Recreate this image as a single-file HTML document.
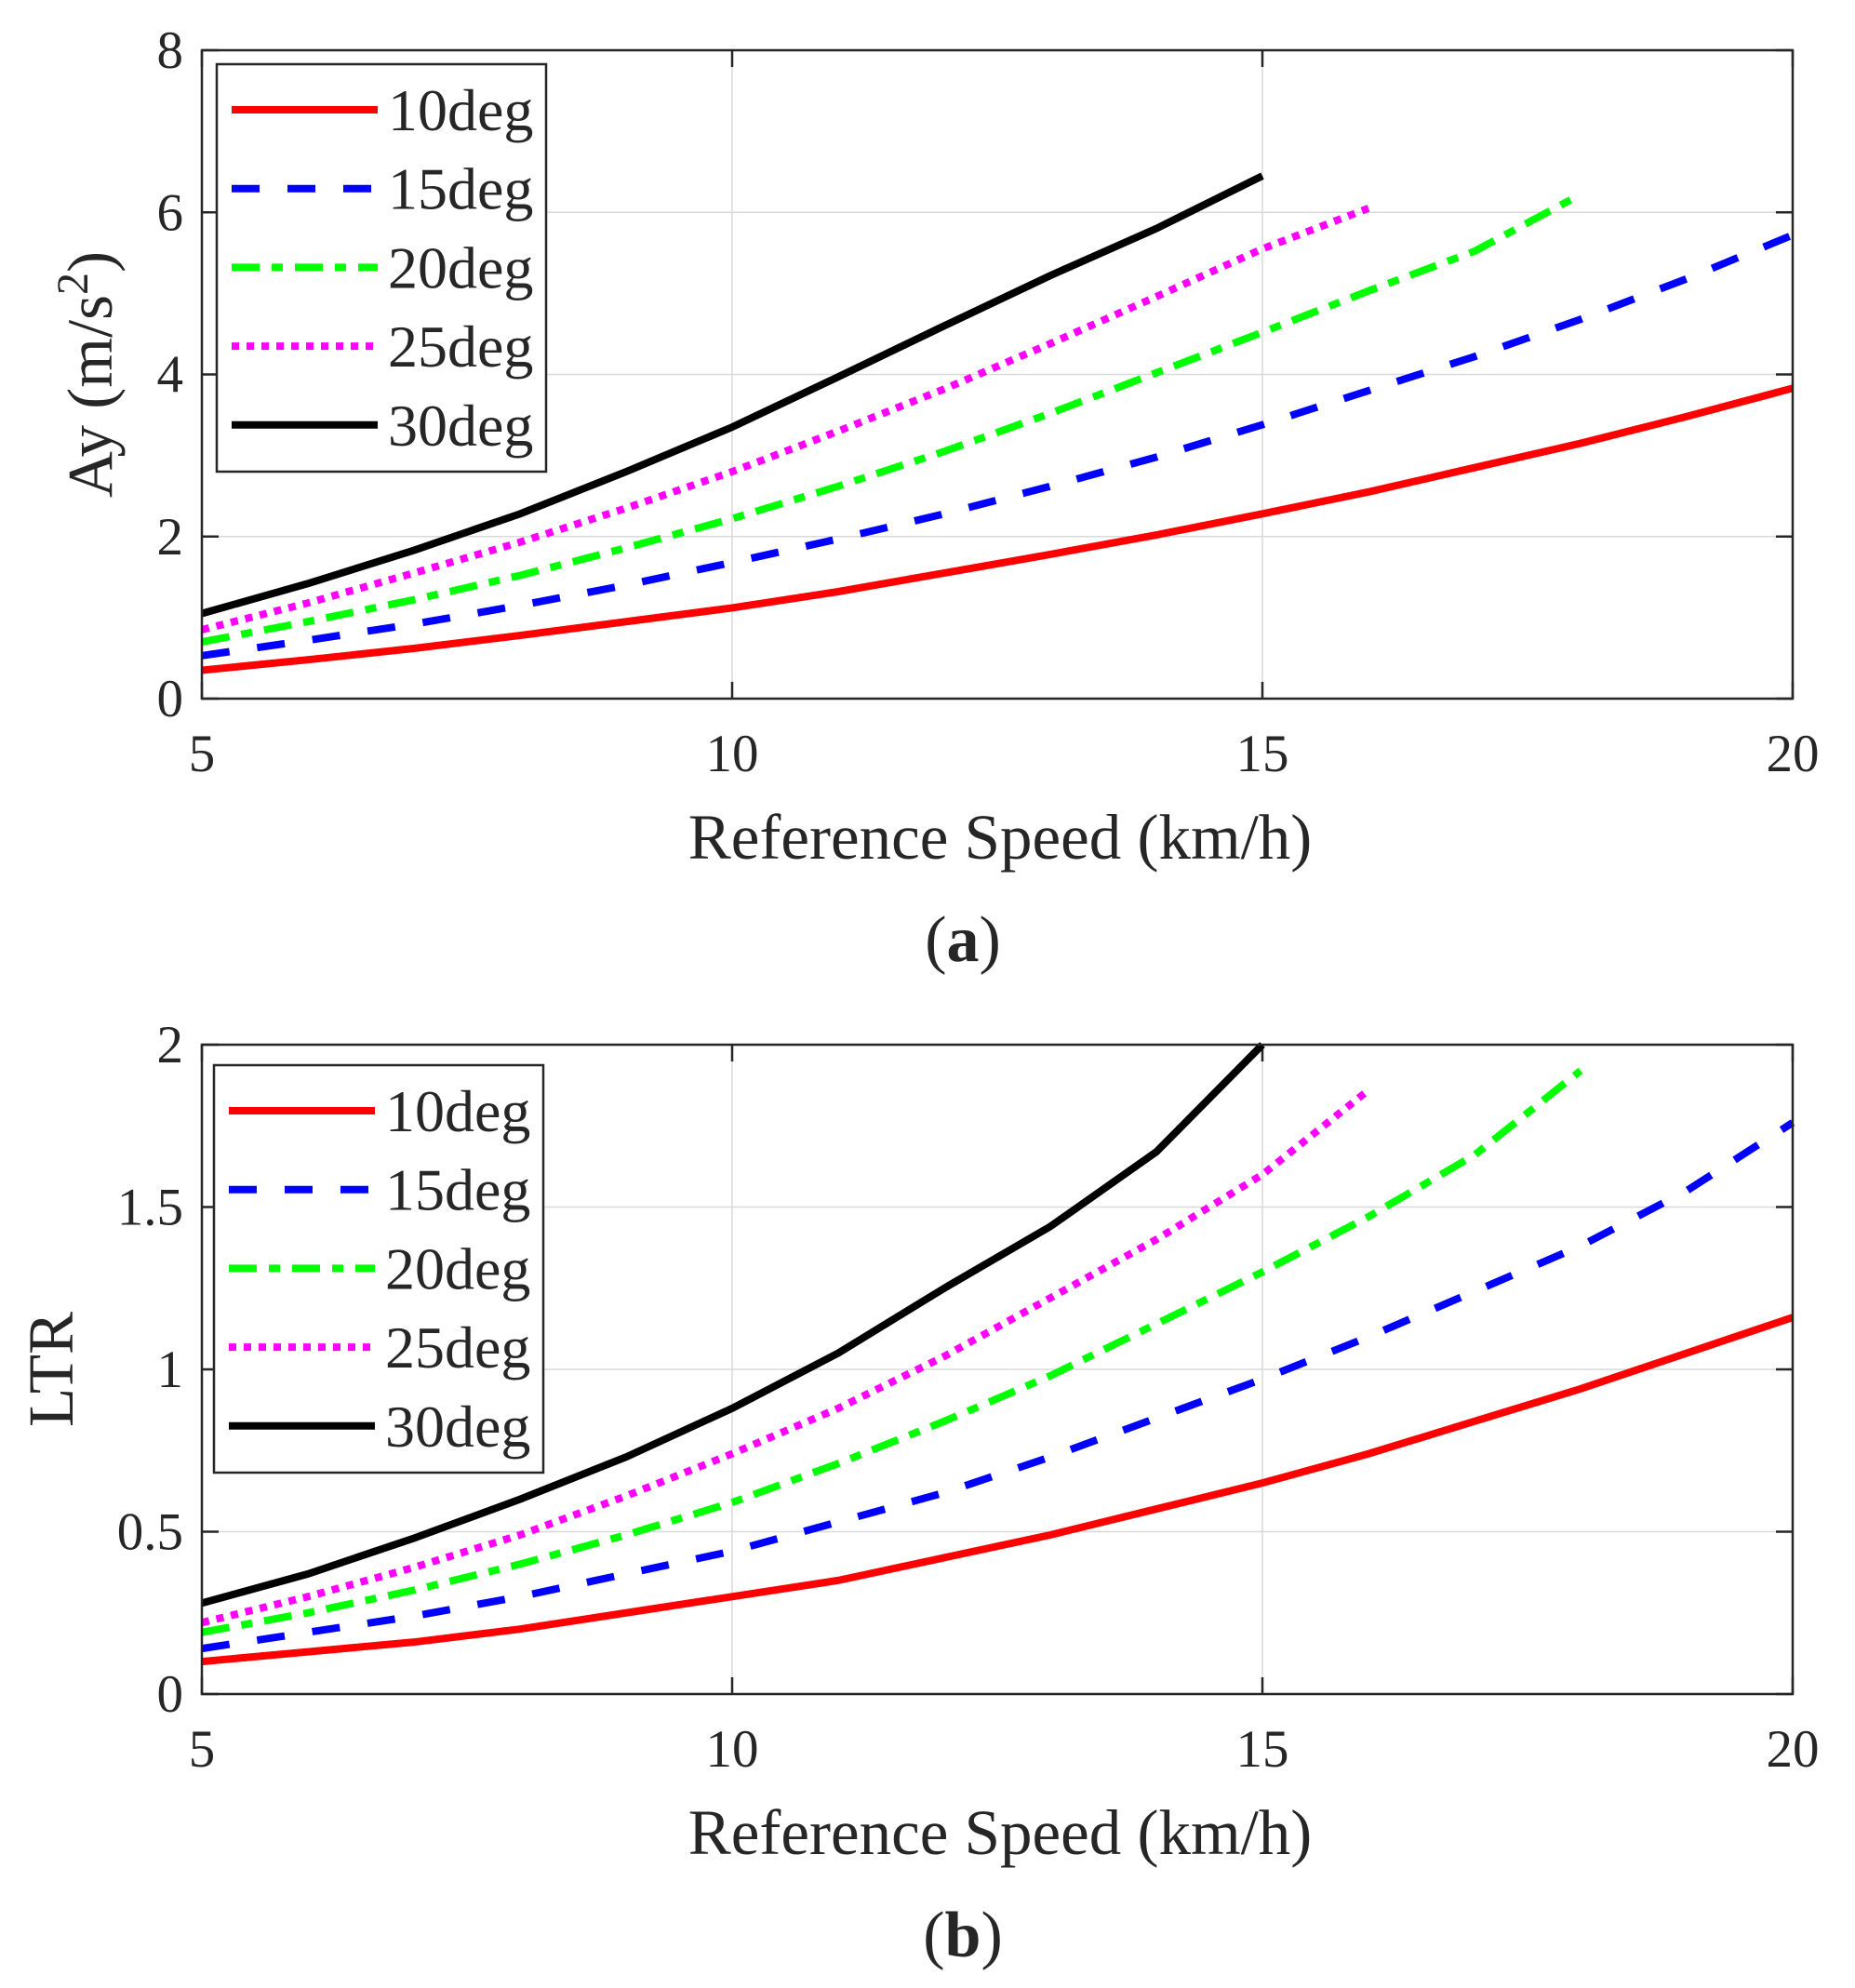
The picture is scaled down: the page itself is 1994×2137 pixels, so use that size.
<!DOCTYPE html>
<html><head><meta charset="utf-8"><style>
html,body{margin:0;padding:0;background:#fff;}
svg text{font-family:"Liberation Serif",serif;fill:#262626;}
</style></head><body>
<svg id="fig" width="1994" height="2132" viewBox="0 0 1994 2132" xmlns="http://www.w3.org/2000/svg"></svg>
<script>
const xs = [5,6,7,8,9,10,11,12,13,14,15,16,17,18,19,20];
const seriesNames = ["10deg","15deg","20deg","25deg","30deg"];
const ayRed = [0.35,0.48,0.62,0.78,0.95,1.12,1.32,1.55,1.78,2.02,2.28,2.55,2.85,3.15,3.48,3.83];
const ayBlue = [0.53,0.72,0.92,1.15,1.40,1.68,1.97,2.28,2.62,2.98,3.38,3.80,4.22,4.68,5.18,5.72];
const ayGreen = [0.70,0.95,1.22,1.52,1.86,2.22,2.62,3.05,3.52,4.02,4.52,5.03,5.52,6.22];
const ayMagenta = [0.85,1.18,1.55,1.93,2.35,2.80,3.30,3.82,4.38,4.96,5.55,6.05];
const ayBlack = [1.05,1.42,1.83,2.28,2.80,3.35,3.97,4.60,5.22,5.80,6.45];
const ltrRed = [0.10,0.13,0.16,0.20,0.25,0.30,0.35,0.42,0.49,0.57,0.65,0.74,0.84,0.94,1.05,1.16];
const ltrBlue = [0.14,0.19,0.24,0.30,0.37,0.44,0.53,0.62,0.73,0.85,0.97,1.10,1.24,1.38,1.55,1.76];
const ltrGreen = [0.19,0.25,0.32,0.40,0.49,0.59,0.71,0.84,0.98,1.14,1.30,1.47,1.66,1.92];
const ltrMagenta = [0.22,0.30,0.39,0.49,0.61,0.74,0.88,1.04,1.22,1.40,1.60,1.86];
const ltrBlack = [0.28,0.37,0.48,0.60,0.73,0.88,1.05,1.25,1.44,1.67,2.00];
const xTicks = [5,10,15,20];
const ayTicks = [0,2,4,6,8];
const ltrTicks = [0,0.5,1,1.5,2];
const ltrTickLabels = ["0","0.5","1","1.5","2"];

const NS="http://www.w3.org/2000/svg";
const svg=document.getElementById('fig');
function el(tag,attrs,parent){const e=document.createElementNS(NS,tag);for(const k in attrs)e.setAttribute(k,attrs[k]);(parent||svg).appendChild(e);return e;}
const styles=[
 {c:"#ff0000",d:""},
 {c:"#0000ff",d:"30 30"},
 {c:"#00ff00",d:"30 13 12 13"},
 {c:"#ff00ff",d:"8 8"},
 {c:"#000000",d:""}];

function panel(cfg){
  const L=217,R=1927,T=cfg.top,B=cfg.bottom;
  const g=el('g',{});
  
  
  const sx=v=>L+(v-5)/15*(R-L);
  const sy=v=>B-(v-cfg.ymin)/(cfg.ymax-cfg.ymin)*(B-T);
  xTicks.forEach(t=>{if(t>5&&t<20){const l=el('line',{x1:sx(t),x2:sx(t),y1:T,y2:B,stroke:"#d9d9d9","stroke-width":1.5},g);}});
  cfg.ticks.forEach(t=>{if(t>cfg.ymin&&t<cfg.ymax){const l=el('line',{x1:L,x2:R,y1:sy(t),y2:sy(t),stroke:"#d9d9d9","stroke-width":1.5},g);}});
  xTicks.forEach(t=>{
    el('line',{x1:sx(t),x2:sx(t),y1:B,y2:B-18,stroke:"#262626","stroke-width":2.5},g);
    el('line',{x1:sx(t),x2:sx(t),y1:T,y2:T+18,stroke:"#262626","stroke-width":2.5},g);
    const tx=el('text',{x:sx(t),y:B+78,"font-size":57,"text-anchor":"middle"},g);tx.textContent=t;
    
  });
  cfg.ticks.forEach((t,i)=>{
    el('line',{x1:L,x2:L+18,y1:sy(t),y2:sy(t),stroke:"#262626","stroke-width":2.5},g);
    el('line',{x1:R,x2:R-18,y1:sy(t),y2:sy(t),stroke:"#262626","stroke-width":2.5},g);
    const tx=el('text',{x:L-20,y:sy(t)+19,"font-size":57,"text-anchor":"end"},g);tx.textContent=cfg.tickLabels[i];
    
  });
  cfg.data.forEach((arr,i)=>{
    const pts=arr.map((v,j)=>sx(xs[j])+","+sy(v)).join(" ");
    const p=el('polyline',{points:pts,fill:"none",stroke:styles[i].c,"stroke-width":8,"stroke-dasharray":styles[i].d},g);
    
    
  });
  const bx=el('rect',{x:L,y:T,width:R-L,height:B-T,fill:"none",stroke:"#262626","stroke-width":2.5},g);
  
  const lg=el('g',{},g);
  
  const ly=T+cfg.legOff;
  el('rect',{x:cfg.legX,y:ly,width:354,height:438,fill:"#fff",stroke:"#262626","stroke-width":2.5},lg);
  seriesNames.forEach((n,i)=>{
    const yy=ly+49+i*84.7;
    const e=el('g',{},lg);
    
    el('line',{x1:cfg.legX+16,x2:cfg.legX+173,y1:yy,y2:yy,stroke:styles[i].c,"stroke-width":8,"stroke-dasharray":styles[i].d},e);
    const t=el('text',{x:cfg.legX+184,y:yy+22,"font-size":64},e);t.textContent=n;
  });
  const xl=el('text',{x:(L+R)/2+3,y:B+172,"font-size":69,"text-anchor":"middle"},g);
  xl.textContent="Reference Speed (km/h)";
  
  const yl=el('text',{x:0,y:0,"font-size":69,"text-anchor":"middle",transform:`translate(${cfg.ylx},${(T+B)/2}) rotate(-90)`},g);
  yl.innerHTML=cfg.ylab;
  
  const pl=el('text',{x:1035,y:B+282,"font-size":70,"text-anchor":"middle"},g);
  pl.innerHTML=cfg.plab;
  
}
panel({name:"panel-a",top:54,bottom:751,ymin:0,ymax:8,ticks:ayTicks,tickLabels:ayTicks.map(String),
  data:[ayRed,ayBlue,ayGreen,ayMagenta,ayBlack],legX:233,legOff:15,ylx:120,
  ylab:'Ay (m/s<tspan dy="-26" font-size="48">2</tspan><tspan dy="26">)</tspan>',
  plab:'(<tspan font-weight="bold">a</tspan>)'});
panel({name:"panel-b",top:1123,bottom:1821,ymin:0,ymax:2,ticks:ltrTicks,tickLabels:ltrTickLabels,
  data:[ltrRed,ltrBlue,ltrGreen,ltrMagenta,ltrBlack],legX:230,legOff:22,ylx:78,
  ylab:'LTR',plab:'(<tspan font-weight="bold">b</tspan>)'});
</script>
</body></html>
